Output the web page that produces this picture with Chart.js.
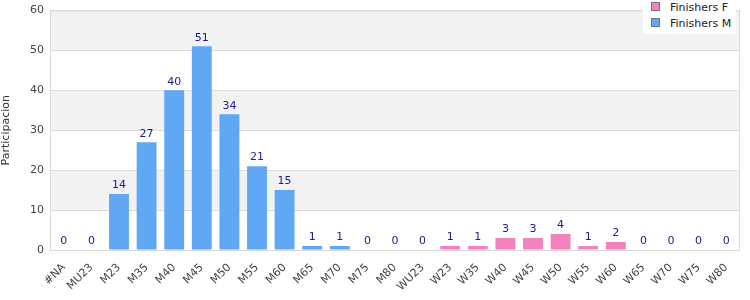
<!DOCTYPE html>
<html>
<head>
<meta charset="utf-8">
<script src="https://cdn.jsdelivr.net/npm/chart.js@4"></script>
<style>
  body { margin: 0; background: #fff; }
  #wrap { position: relative; width: 750px; height: 300px; }
  #legend { position: absolute; left: 643px; top: 0; width: 93px; height: 34px; background: #fff;
            font: 11px "DejaVu Sans", Verdana, sans-serif; color: #222; }
  #legend div { position: absolute; left: 8px; white-space: nowrap; }
  #legend span { display: inline-block; width: 7px; height: 7px; border: 1px solid #777; margin-right: 10px; vertical-align: 0; }
</style>
</head>
<body>
<div id="wrap">
  <canvas id="chart" width="750" height="300"></canvas>
  <div id="legend">
    <div style="top:1px"><span style="background:#f283be"></span>Finishers F</div>
    <div style="top:17px"><span style="background:#60a8f4"></span>Finishers M</div>
  </div>
</div>
<script>
const categories = ["#NA","MU23","M23","M35","M40","M45","M50","M55","M60","M65","M70","M75","M80",
  "WU23","W23","W35","W40","W45","W50","W55","W60","W65","W70","W75","W80"];
const finishersM = [0,0,14,27,40,51,34,21,15,1,1,0,0,
  null,null,null,null,null,null,null,null,null,null,null,null];
const finishersF = [null,null,null,null,null,null,null,null,null,null,null,null,null,
  0,1,1,3,3,4,1,2,0,0,0,0];
const yTicks = [0,10,20,30,40,50,60];

const bands = {
  id: "bands",
  beforeDraw(chart) {
    const {ctx, chartArea: a, scales: {y}} = chart;
    ctx.save();
    for (let i = 0; i < yTicks.length - 1; i++) {
      if (i % 2 === 1) {
        const top = y.getPixelForValue(yTicks[i + 1]);
        const bot = y.getPixelForValue(yTicks[i]);
        ctx.fillStyle = "#f2f2f2";
        ctx.fillRect(a.left, top, a.right - a.left, bot - top);
      }
    }
    ctx.restore();
  },
  afterDraw(chart) {
    const {ctx, chartArea: a} = chart;
    ctx.save();
    ctx.strokeStyle = "#d9d9d9";
    ctx.lineWidth = 1;
    ctx.strokeRect(a.left + 0.5, a.top + 0.5, a.right - a.left - 1, a.bottom - a.top);
    ctx.restore();
  }
};

const valueLabels = {
  id: "valueLabels",
  afterDatasetsDraw(chart) {
    const {ctx, scales: {x, y}} = chart;
    ctx.save();
    ctx.font = "11px 'DejaVu Sans', Verdana, sans-serif";
    ctx.fillStyle = "#1a1a8c";
    ctx.textAlign = "center";
    ctx.textBaseline = "bottom";
    categories.forEach((c, i) => {
      const v = finishersM[i] !== null ? finishersM[i] : finishersF[i];
      ctx.fillText(String(v), x.getPixelForValue(i), y.getPixelForValue(v) - 3);
    });
    ctx.restore();
  }
};

new Chart(document.getElementById("chart"), {
  type: "bar",
  data: {
    labels: categories,
    datasets: [
      { label: "Finishers F", data: finishersF, backgroundColor: "#f283be" },
      { label: "Finishers M", data: finishersM, backgroundColor: "#60a8f4" }
    ]
  },
  options: {
    responsive: false,
    animation: false,
    layout: { padding: { top: 10, right: 10, left: 0, bottom: 0 } },
    datasets: { bar: { barPercentage: 0.72, categoryPercentage: 1 } },
    plugins: { legend: { display: false }, tooltip: { enabled: false } },
    scales: {
      x: {
        stacked: true,
        grid: { display: false },
        border: { display: false },
        ticks: { color: "#444", minRotation: 45, maxRotation: 45, autoSkip: false,
          font: { family: "'DejaVu Sans', Verdana, sans-serif", size: 11 } },
        afterFit(s) { s.height = 50; }
      },
      y: {
        stacked: true,
        min: 0, max: 60,
        ticks: { stepSize: 10, color: "#444", padding: 6,
          font: { family: "'DejaVu Sans', Verdana, sans-serif", size: 11, lineHeight: 0.8 } },
        grid: { color: "#dcdcdc", drawTicks: false },
        border: { display: false },
        title: { display: true, text: "Participacion", color: "#333", padding: 0,
          font: { family: "'DejaVu Sans', Verdana, sans-serif", size: 11 } },
        afterFit(s) { s.width = 50; }
      }
    }
  },
  plugins: [bands, valueLabels]
});
</script>
</body>
</html>
